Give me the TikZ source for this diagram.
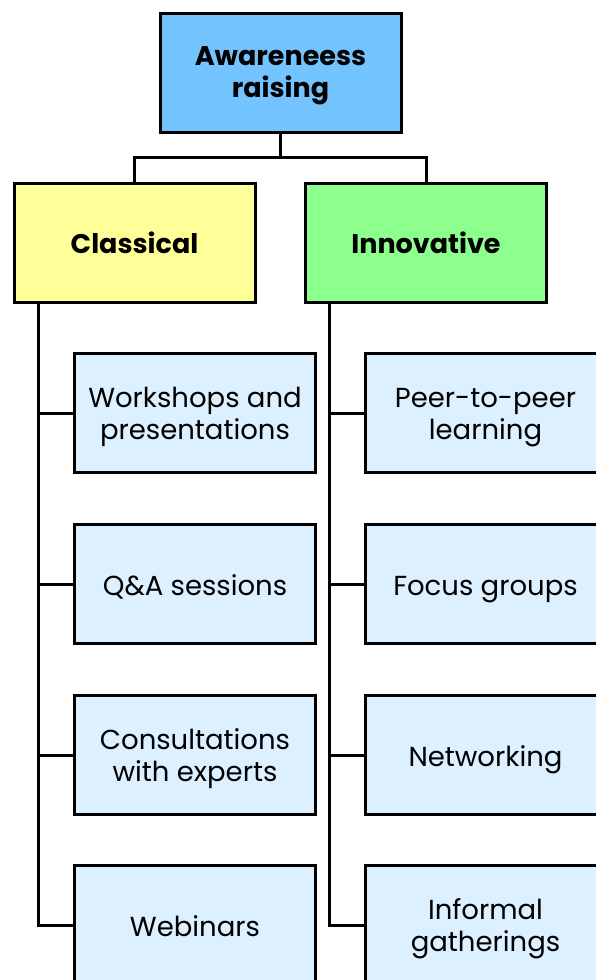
\documentclass[tikz,border=0pt]{standalone}
\usepackage{fontspec}
\setmainfont{Poppins}
\usetikzlibrary{calc}
\definecolor{topblue}{RGB}{115,195,255}
\definecolor{clyellow}{RGB}{255,255,153}
\definecolor{ingreen}{RGB}{140,255,140}
\definecolor{leafblue}{RGB}{220,240,255}
\tikzset{
  box/.style={draw=black, line width=3pt, minimum width=241pt, minimum height=119pt, inner sep=0pt, align=center, font=\fontsize{27.5}{32}\selectfont},
  one/.style={text height=22pt, text depth=0pt},
  two/.style={text height=52pt, text depth=0pt},
  headbox/.style={box, font=\fontsize{27}{32}\selectfont\bfseries},
  leaf/.style={box, fill=leafblue},
  conn/.style={line width=3pt, line cap=rect},
}
\begin{document}
\begin{tikzpicture}[x=1pt,y=-1pt]
\useasboundingbox (0,0) rectangle (596,980);
\clip (0,0) rectangle (596,980);
\node[headbox, two, text height=49pt, fill=topblue] (top) at (280.5,72.5) {Awareneess\\raising};
\node[headbox, one, text height=21pt, fill=clyellow] (cl) at (134.5,242.5) {Classical};
\node[headbox, one, text height=21pt, fill=ingreen] (in) at (426,242.5) {Innovative};
\node[leaf, two] (l1) at (195,413) {Workshops and\\presentations};
\node[leaf, one] (l2) at (195,584) {Q\&A sessions};
\node[leaf, two] (l3) at (195,755) {Consultations\\with experts};
\node[leaf, one] (l4) at (195,925) {Webinars};
\node[leaf, two] (r1) at (485.5,413) {Peer-to-peer\\learning};
\node[leaf, one] (r2) at (485.5,584) {Focus groups};
\node[leaf, one] (r3) at (485.5,755) {Networking};
\node[leaf, two] (r4) at (485.5,925) {Informal\\gatherings};
\coordinate (hub) at ($(top.south)+(0,24)$);
\draw[conn] (top.south) -- (hub) -| (cl.north);
\draw[conn] (hub) -| (in.north);
\coordinate (lv) at ($(cl.south west)+(26,0)$);
\coordinate (rv) at ($(in.south west)+(25.5,0)$);
\draw[conn] (lv) |- (l4.west);
\draw[conn] (rv) |- (r4.west);
\foreach \n in {l1,l2,l3} \draw[conn] (lv |- \n.west) -- (\n.west);
\foreach \n in {r1,r2,r3} \draw[conn] (rv |- \n.west) -- (\n.west);
\end{tikzpicture}
\end{document}
